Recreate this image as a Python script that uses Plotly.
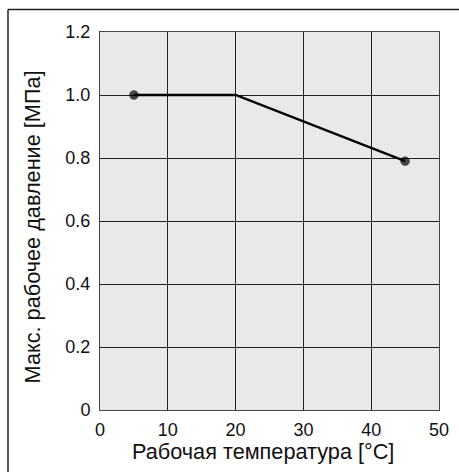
import plotly.graph_objects as go

temps = [5, 20, 45]
pressure = [1.0, 1.0, 0.79]
marker_sizes = [9, 0, 9]
x_ticks = [0, 10, 20, 30, 40, 50]
y_ticks = [0, 0.2, 0.4, 0.6, 0.8, 1.0, 1.2]
y_labels = ["0", "0.2", "0.4", "0.6", "0.8", "1.0", "1.2"]
x_title = "Рабочая температура [°C]"
y_title = "Макс. рабочее давление [МПа]"

fig = go.Figure()
fig.add_trace(go.Scatter(
    x=temps, y=pressure, mode="lines+markers",
    line=dict(color="black", width=2.4),
    marker=dict(color="black", size=marker_sizes, line=dict(color="black", width=0.5)),
    showlegend=False, hoverinfo="skip",
))

tick_font = dict(family="Liberation Sans, Arial, sans-serif", size=18, color="#111")
title_font = dict(family="Liberation Sans, Arial, sans-serif", size=21.7, color="#111")
fig.update_layout(
    width=459, height=472,
    margin=dict(l=100, r=20, t=32, b=62, autoexpand=False),
    paper_bgcolor="white", plot_bgcolor="#e8e9e8",
    font=tick_font,
    xaxis=dict(range=[0, 50], tickvals=x_ticks, showgrid=True, gridcolor="#222",
               gridwidth=1, showline=True, linecolor="#444", linewidth=1, mirror=True,
               zeroline=False, ticks="outside", ticklen=3, tickcolor="rgba(0,0,0,0)",
               tickfont=tick_font, automargin=False),
    yaxis=dict(range=[0, 1.2], tickvals=y_ticks, ticktext=y_labels, showgrid=True,
               gridcolor="#222", gridwidth=1, showline=True, linecolor="#444", linewidth=1,
               mirror=True, zeroline=False, ticks="outside", ticklen=5,
               tickcolor="rgba(0,0,0,0)", tickfont=tick_font, automargin=False),
)
fig.add_annotation(text=x_title, xref="paper", yref="paper", x=0.482, y=-0.111,
                   xanchor="center", yanchor="middle", showarrow=False, font=title_font)
fig.add_annotation(text=y_title, xref="paper", yref="paper", x=-0.198, y=0.4854,
                   xanchor="center", yanchor="middle", showarrow=False, font=title_font,
                   textangle=-90)
# outer frame: left and top edges only (right and bottom run off the image)
fig.add_shape(type="line", xref="paper", yref="paper", x0=-0.2714, x1=-0.2714, y0=-0.4, y1=1.0595,
              line=dict(color="#222", width=1.5), layer="above")
fig.add_shape(type="line", xref="paper", yref="paper", x0=-0.2714, x1=1.2, y0=1.0595, y1=1.0595,
              line=dict(color="#222", width=1.5), layer="above")
fig.write_html("out.html", config={"displayModeBar": False},
               post_script="document.body.style.margin='0';document.body.style.overflow='hidden';")
